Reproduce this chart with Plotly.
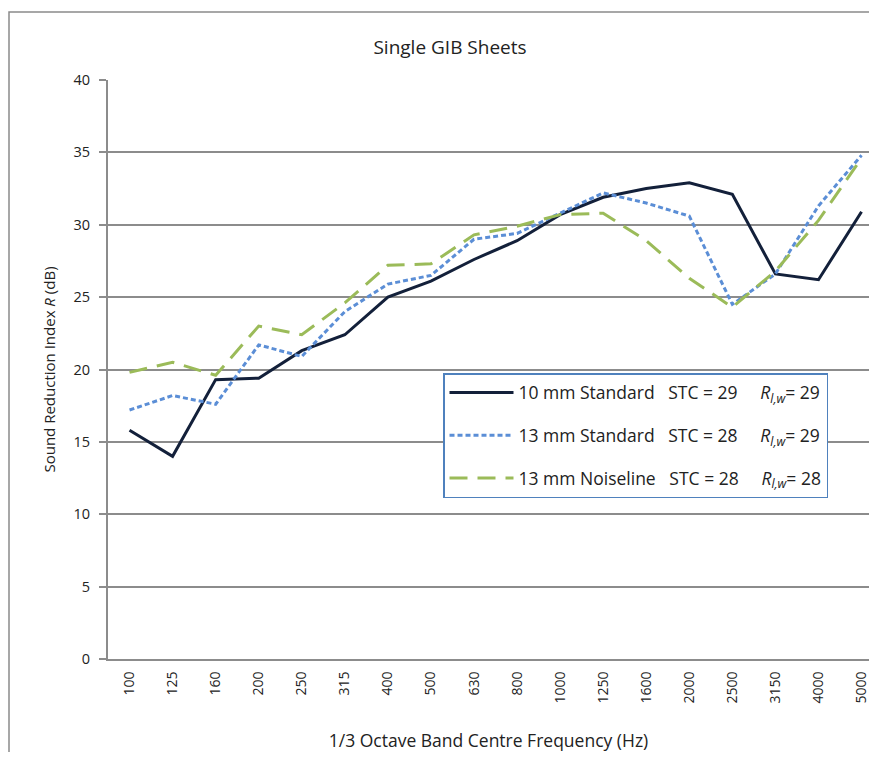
import plotly.graph_objects as go

freq = ["100", "125", "160", "200", "250", "315", "400", "500", "630", "800",
        "1000", "1250", "1600", "2000", "2500", "3150", "4000", "5000"]
std10 = [15.8, 14.0, 19.3, 19.4, 21.3, 22.4, 25.0, 26.1, 27.6, 28.9,
         30.7, 31.9, 32.5, 32.9, 32.1, 26.6, 26.2, 30.9]
std13 = [17.2, 18.2, 17.6, 21.7, 20.9, 24.0, 25.9, 26.5, 29.0, 29.4,
         30.8, 32.2, 31.5, 30.6, 24.5, 26.6, 31.3, 34.8]
noise13 = [19.8, 20.5, 19.6, 23.0, 22.4, 24.6, 27.2, 27.3, 29.3, 29.9,
           30.7, 30.8, 28.9, 26.3, 24.3, 26.8, 30.3, 34.6]

series_names = ["10 mm Standard", "13 mm Standard", "13 mm Noiseline"]
stc = [29, 28, 28]
rw = [29, 29, 28]
yticks = [0, 5, 10, 15, 20, 25, 30, 35, 40]

NB = "\u00a0"
def label(name, s, r):
    return (f"{name}{NB*3}STC = {s}{NB*5}<i>R</i><sub><i>l,w</i></sub>= {r}")

colors = ["#13203A", "#5B8ED6", "#9BBB59"]
dashes = ["solid", "5px,3px", "18px,10px"]
data = [std10, std13, noise13]

fig = go.Figure()
for i in range(3):
    fig.add_trace(go.Scatter(
        x=freq, y=data[i], mode="lines",
        name=label(series_names[i], stc[i], rw[i]),
        legendgroup=f"g{i}",
        line=dict(color=colors[i], width=3, dash=dashes[i]),
    ))

# page offset of the figure (body margin)
OFF = 8
W, H = 861, 744
L = 108 - OFF
T = 80 - OFF
B = H - (659 - OFF)
pw = W - L
ph = H - T - B
cat_px = (862 - 130) / 17.0
xmax = -0.5 + pw / cat_px

def px_x(x):
    return (x - OFF - L) / pw
def px_y(y):
    return (H - B - (y - OFF)) / ph

fig.update_layout(
    width=W, height=H,
    margin=dict(l=L, r=0, t=T, b=B, pad=0),
    paper_bgcolor="white", plot_bgcolor="white",
    font=dict(family="Open Sans", size=14, color="#222222"),
    title=dict(text="Single GIB Sheets", x=(450 - OFF) / W, xanchor="center",
               y=1 - (47 - OFF) / H, yanchor="middle",
               font=dict(family="Open Sans", size=19, color="#222222")),
    showlegend=True,
    legend=dict(x=px_x(443), y=px_y(373), xanchor="left", yanchor="top",
                bordercolor="#4F81BD", borderwidth=1.5, bgcolor="white",
                font=dict(family="Open Sans", size=17.5, color="#222222"),
                tracegroupgap=17, itemwidth=64),
    xaxis=dict(type="category", range=[-0.5, xmax], tickangle=-90,
               showgrid=False, showline=True, linecolor="#8C8C8C", linewidth=2,
               ticks="", ticklabelstandoff=5,
               tickfont=dict(family="Open Sans", size=14, color="#222222"),
               title=dict(text="1/3 Octave Band Centre Frequency (Hz)",
                          font=dict(family="Open Sans", size=17.5, color="#222222"),
                          standoff=40),
               automargin=False, fixedrange=True),
    yaxis=dict(range=[0, 40], tickvals=yticks, showgrid=True,
               gridcolor="#8C8C8C", gridwidth=2, showline=True,
               linecolor="#8C8C8C", linewidth=2, ticks="outside", ticklen=7,
               tickcolor="#8C8C8C", tickwidth=2, zeroline=False,
               ticklabelstandoff=6,
               tickfont=dict(family="Open Sans", size=14.5, color="#222222"),
               title=dict(text="Sound Reduction Index <i>R</i> (dB)",
                          font=dict(family="Open Sans", size=15, color="#222222"),
                          standoff=14),
               automargin=False, fixedrange=True),
    shapes=[dict(type="path", xref="paper", yref="paper",
                 path=f"M {px_x(OFF + 1)} {px_y(800)} L {px_x(OFF + 1)} {px_y(12)} L {px_x(900)} {px_y(12)}",
                 line=dict(color="#8A8A8A", width=1.5))],
)

fig.write_html("out.html")
